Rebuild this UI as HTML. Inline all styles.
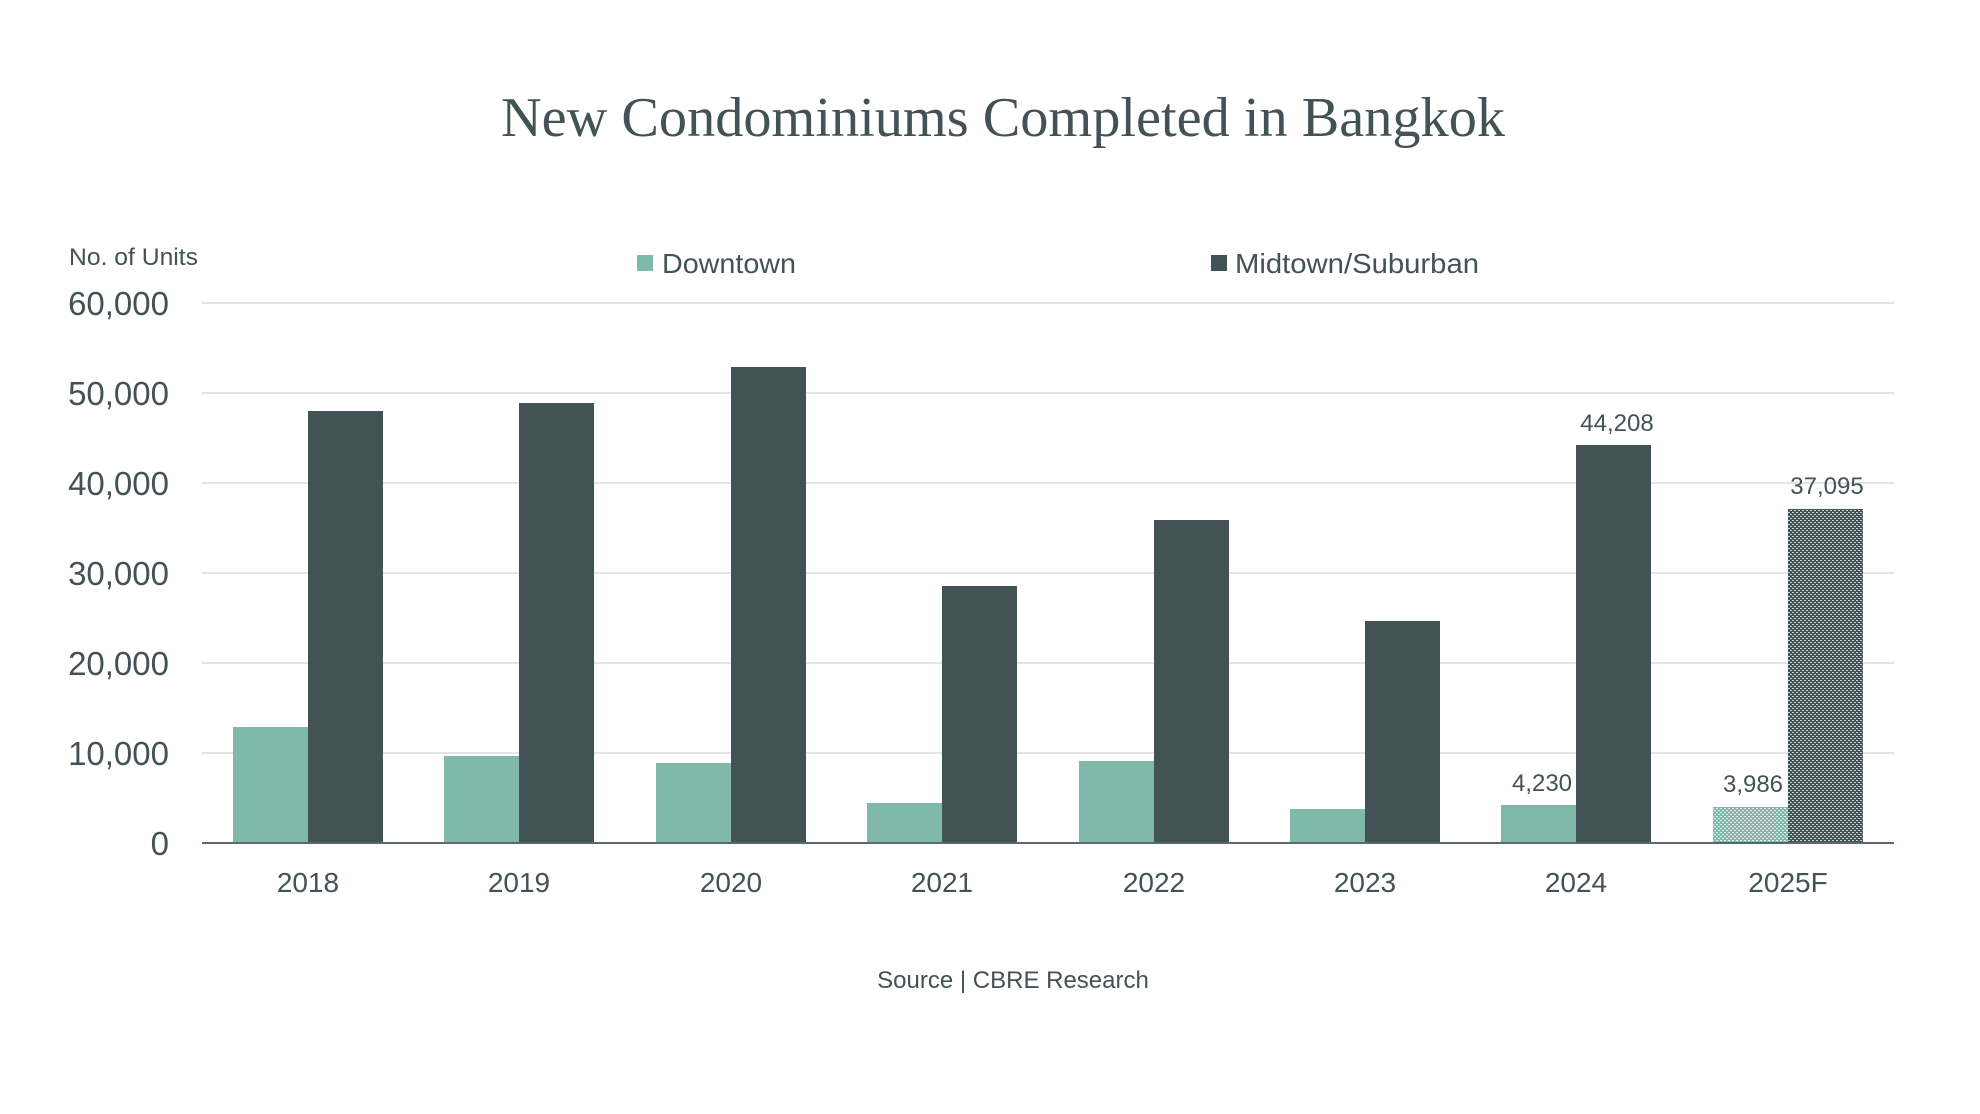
<!DOCTYPE html>
<html><head><meta charset="utf-8"><style>
html,body{margin:0;padding:0;background:#fff;}
svg{display:block;}
text{font-family:"Liberation Sans",sans-serif;fill:#435254;}
</style></head><body>
<svg width="1980" height="1114" viewBox="0 0 1980 1114" xmlns="http://www.w3.org/2000/svg">
<defs>
<pattern id="pd" width="4" height="4" patternUnits="userSpaceOnUse">
<rect width="4" height="4" fill="#435254"/>
<rect x="0" y="0" width="2" height="1" fill="#c8d0d0"/>
<rect x="2" y="2" width="2" height="1" fill="#c8d0d0"/>
</pattern>
<pattern id="pl" width="4" height="4" patternUnits="userSpaceOnUse">
<rect width="4" height="4" fill="#80b8aa"/>
<rect x="0" y="0" width="2" height="1" fill="#e6f1ee"/>
<rect x="2" y="2" width="2" height="1" fill="#e6f1ee"/>
</pattern>
</defs>
<text x="1003" y="136" text-anchor="middle" style="font-family:'Liberation Serif',serif" font-size="56" textLength="1004" lengthAdjust="spacingAndGlyphs">New Condominiums Completed in Bangkok</text>
<text x="69" y="265" font-size="24" textLength="129" lengthAdjust="spacingAndGlyphs">No. of Units</text>
<rect x="637" y="255" width="16" height="16" fill="#80b8aa"/>
<text x="662" y="273" font-size="28" textLength="134" lengthAdjust="spacingAndGlyphs">Downtown</text>
<rect x="1211" y="255" width="16" height="16" fill="#435254"/>
<text x="1235" y="273" font-size="28" textLength="244" lengthAdjust="spacingAndGlyphs">Midtown/Suburban</text>
<g stroke="#dcdcdc" stroke-width="1.5">
<line x1="202" x2="1894" y1="303" y2="303"/>
<line x1="202" x2="1894" y1="393" y2="393"/>
<line x1="202" x2="1894" y1="483" y2="483"/>
<line x1="202" x2="1894" y1="573" y2="573"/>
<line x1="202" x2="1894" y1="663" y2="663"/>
<line x1="202" x2="1894" y1="753" y2="753"/>
</g>
<g font-size="33" text-anchor="end">
<text x="169" y="315">60,000</text>
<text x="169" y="405">50,000</text>
<text x="169" y="495">40,000</text>
<text x="169" y="585">30,000</text>
<text x="169" y="675">20,000</text>
<text x="169" y="765">10,000</text>
<text x="169" y="855">0</text>
</g>
<g fill="#80b8aa">
<rect x="233" y="727" width="75" height="116"/>
<rect x="444" y="756" width="75" height="87"/>
<rect x="656" y="763" width="75" height="80"/>
<rect x="867" y="803" width="75" height="40"/>
<rect x="1079" y="761" width="75" height="82"/>
<rect x="1290" y="809" width="75" height="34"/>
<rect x="1501" y="805" width="75" height="38"/>
</g>
<rect x="1713" y="807" width="75" height="36" fill="url(#pl)"/>
<g fill="#435254">
<rect x="308" y="411" width="75" height="432"/>
<rect x="519" y="403" width="75" height="440"/>
<rect x="731" y="367" width="75" height="476"/>
<rect x="942" y="586" width="75" height="257"/>
<rect x="1154" y="520" width="75" height="323"/>
<rect x="1365" y="621" width="75" height="222"/>
<rect x="1576" y="445" width="75" height="398"/>
</g>
<rect x="1788" y="509" width="75" height="334" fill="url(#pd)"/>
<line x1="202" x2="1894" y1="843" y2="843" stroke="#5a6a6b" stroke-width="2"/>
<g font-size="24" text-anchor="middle">
<text x="1617" y="431">44,208</text>
<text x="1827" y="494">37,095</text>
<text x="1542" y="791">4,230</text>
<text x="1753" y="792">3,986</text>
</g>
<g font-size="28" text-anchor="middle">
<text x="308" y="892">2018</text>
<text x="519" y="892">2019</text>
<text x="731" y="892">2020</text>
<text x="942" y="892">2021</text>
<text x="1154" y="892">2022</text>
<text x="1365" y="892">2023</text>
<text x="1576" y="892">2024</text>
<text x="1788" y="892">2025F</text>
</g>
<text x="1013" y="988" font-size="24" text-anchor="middle">Source | CBRE Research</text>
</svg>
</body></html>
